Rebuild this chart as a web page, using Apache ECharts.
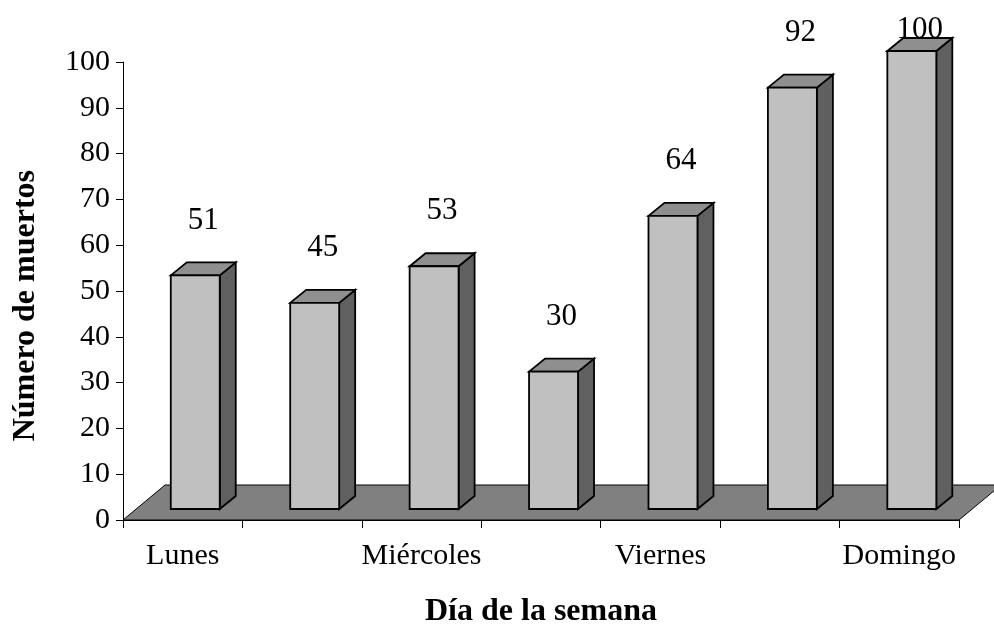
<!DOCTYPE html>
<html>
<head>
<meta charset="utf-8">
<script src="https://cdn.jsdelivr.net/npm/echarts@6/dist/echarts.min.js"></script>
<style>
  html, body { margin: 0; padding: 0; background: #fff; }
  #main { width: 994px; height: 636px; }
</style>
</head>
<body>
<div id="main"></div>
<script>
// datos
const dias = ['Lunes', 'Martes', 'Miércoles', 'Jueves', 'Viernes', 'Sábado', 'Domingo'];
const muertos = [51, 45, 53, 30, 64, 92, 100];
const yMin = 0;
const yMax = 100;
const yStep = 10;

const serif = '"Liberation Serif", "Times New Roman", serif';

const chart = echarts.init(document.getElementById('main'));

// suelo en perspectiva
function renderFloor(params, api) {
  const cs = params.coordSys;
  const dx = 42, dy = 35;
  const b = cs.y + cs.height;
  return {
    type: 'polygon',
    shape: {
      points: [
        [cs.x, b], [cs.x + dx, b - dy],
        [cs.x + cs.width + dx, b - dy], [cs.x + cs.width, b]
      ]
    },
    style: { fill: '#808080', stroke: '#000', lineWidth: 1 }
  };
}

// barras 3D (frente, lado, tapa) + etiqueta
function renderBar(params, api) {
  const idx = api.value(0);
  const base = api.coord([idx, 0]);
  const top = api.coord([idx, api.value(1)]);
  const band = api.size([1, 0])[0];
  const fw = band * 0.41;
  const off = band * 0.105;
  const ddx = band * 0.134;
  const ddy = band * 0.109;
  const lift = 11;
  const left = base[0] + off - fw / 2;
  const right = left + fw;
  const bottomY = base[1] - lift;
  const topY = top[1] - lift;
  const edge = { stroke: '#000', lineWidth: 1.8, lineJoin: 'miter' };
  return {
    type: 'group',
    children: [
      {
        type: 'polygon',
        shape: { points: [[right, topY], [right + ddx, topY - ddy], [right + ddx, bottomY - ddy], [right, bottomY]] },
        style: Object.assign({ fill: '#606060' }, edge)
      },
      {
        type: 'polygon',
        shape: { points: [[left, topY], [left + ddx, topY - ddy], [right + ddx, topY - ddy], [right, topY]] },
        style: Object.assign({ fill: '#8f8f8f' }, edge)
      },
      {
        type: 'rect',
        shape: { x: left, y: topY, width: fw, height: bottomY - topY },
        style: Object.assign({ fill: '#c0c0c0' }, edge)
      },
      {
        type: 'text',
        style: {
          text: String(api.value(1)),
          x: left + (fw + ddx) / 2,
          y: Math.max(topY - 55, 30),
          fill: '#000',
          font: '31px ' + serif,
          align: 'center',
          verticalAlign: 'middle',
          textAlign: 'center',
          textVerticalAlign: 'middle'
        }
      }
    ]
  };
}

const option = {
  animation: false,
  backgroundColor: '#fff',
  grid: { left: 123, right: 35, top: 62, bottom: 116 },
  graphic: [
    {
      type: 'text',
      left: 10,
      top: 170,
      rotation: Math.PI / 2,
      style: {
        text: 'Número de muertos',
        font: 'bold 32px ' + serif,
        fill: '#000'
      }
    }
  ],
  xAxis: {
    type: 'category',
    data: dias,
    boundaryGap: true,
    name: 'Día de la semana',
    nameLocation: 'middle',
    nameGap: 76,
    nameTextStyle: { fontFamily: serif, fontSize: 32, fontWeight: 'bold', color: '#000' },
    axisLine: { lineStyle: { color: '#000', width: 1 } },
    axisTick: { show: true, interval: 0, length: 8, lineStyle: { color: '#000' } },
    axisLabel: { interval: 1, margin: 21, fontFamily: serif, fontSize: 30, color: '#000' },
    splitLine: { show: false }
  },
  yAxis: {
    type: 'value',
    min: yMin,
    max: yMax,
    interval: yStep,
    axisLine: { show: true, lineStyle: { color: '#000', width: 1 } },
    axisTick: { show: true, length: 7, lineStyle: { color: '#000' } },
    axisLabel: { margin: 13, fontFamily: serif, fontSize: 30, color: '#000' },
    splitLine: { show: false }
  },
  series: [
    {
      type: 'custom',
      name: 'suelo',
      z: 1,
      clip: false,
      silent: true,
      renderItem: renderFloor,
      data: [[0, 0]]
    },
    {
      type: 'custom',
      name: 'muertos',
      z: 3,
      clip: false,
      renderItem: renderBar,
      encode: { x: 0, y: 1 },
      data: muertos.map((v, i) => [i, v])
    }
  ]
};

chart.setOption(option);
</script>
</body>
</html>
